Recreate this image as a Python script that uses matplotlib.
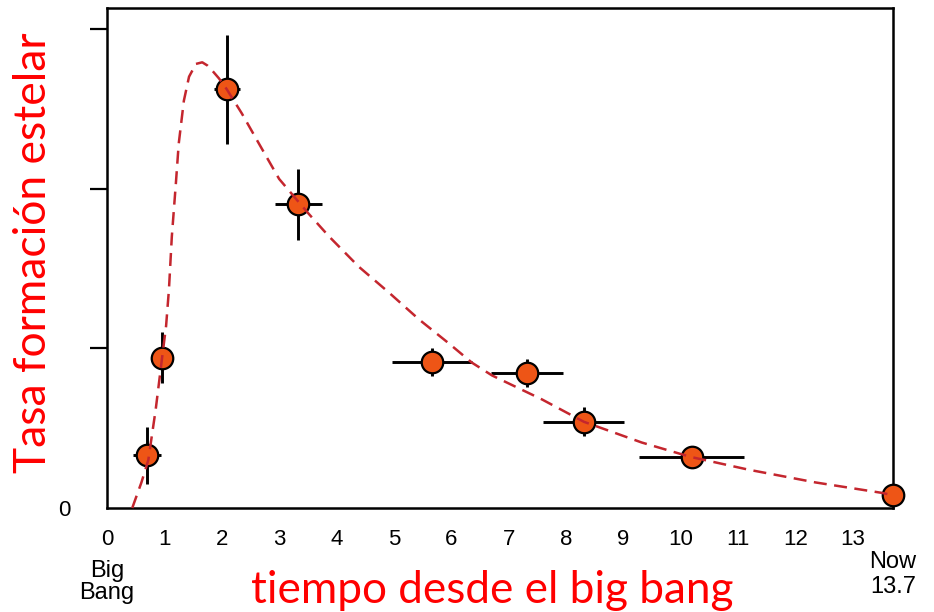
import matplotlib
matplotlib.use("Agg")
import matplotlib.pyplot as plt

# ---- data ----
obs_t = [0.70, 0.96, 2.09, 3.33, 5.66, 7.32, 8.31, 10.19, 13.7]
obs_sfr = [0.33, 0.94, 2.62, 1.90, 0.914, 0.845, 0.54, 0.32, 0.08]
obs_terr = [0.24, 0.15, 0.22, 0.41, 0.70, 0.63, 0.71, 0.92, 0.0]
obs_serr = [0.18, 0.16, 0.34, 0.22, 0.09, 0.09, 0.09, 0.0, 0.0]

curve_t = [0.44, 0.60, 0.72, 0.85, 0.96, 1.03, 1.08, 1.13, 1.20, 1.25, 1.34,
           1.43, 1.55, 1.66, 1.75, 1.83, 1.95, 2.09, 2.35, 2.65, 3.00, 3.33,
           3.52, 3.87, 4.39, 4.91, 5.44, 5.96, 6.36, 6.71, 7.58, 8.31, 9.32,
           10.17, 11.18, 12.35, 13.5, 13.7]
curve_sfr = [0.0, 0.16, 0.30, 0.62, 0.94, 1.14, 1.37, 1.70, 2.03, 2.28, 2.55,
             2.70, 2.78, 2.79, 2.77, 2.74, 2.69, 2.62, 2.47, 2.28, 2.06, 1.92,
             1.84, 1.70, 1.51, 1.35, 1.18, 1.03, 0.91, 0.83, 0.68, 0.54, 0.41,
             0.32, 0.24, 0.16, 0.095, 0.08]

xticks = list(range(14))
xtick_labels = [str(v) for v in xticks]
yticks = [0, 1, 2, 3]
ytick_labels = ["0", "", "", ""]

xlabel = "tiempo desde el big bang"
ylabel = "Tasa formación estelar"

# ---- figure ----
W, H = 934, 612
fig = plt.figure(figsize=(W / 100, H / 100), dpi=100)
ax = fig.add_axes([107 / W, 1 - 508 / H, (893 - 107) / W, (508 - 8) / H])

ax.set_xlim(0, 13.7)
ax.set_ylim(0, 3.13)

ax.errorbar(obs_t, obs_sfr, xerr=obs_terr, yerr=obs_serr, fmt='none',
            ecolor='black', elinewidth=2.1, capsize=0, zorder=2, clip_on=False)
ax.plot(obs_t, obs_sfr, 'o', ms=15.5, mfc='#EE5516', mec='black', mew=1.6,
        zorder=3, clip_on=False)
ax.plot(curve_t, curve_sfr, color='#C4262E', lw=1.8, dashes=(5.2, 3.0),
        zorder=4, clip_on=False)

for s in ax.spines.values():
    s.set_linewidth(1.8)

tick_font = dict(family=['Liberation Sans', 'DejaVu Sans'], size=16)
ax.set_xticks(xticks)
ax.set_xticklabels(xtick_labels, fontdict=tick_font)
ax.tick_params(axis='x', length=0, pad=15)
ax.set_yticks(yticks)
ax.set_yticklabels(ytick_labels, fontdict=tick_font)
ax.tick_params(axis='y', direction='out', length=12.2, width=1.6, pad=14.4)
ax.yaxis.get_major_ticks()[0].tick1line.set_visible(False)

ax.annotate("Big\nBang", xy=(0, 0), xycoords=('data', 'axes fraction'),
            xytext=(0, -53), textcoords='offset points', ha='center',
            va='center', fontsize=17, family=['Liberation Sans'],
            linespacing=1.0, annotation_clip=False)
ax.annotate("Now\n13.7", xy=(13.7, 0), xycoords=('data', 'axes fraction'),
            xytext=(0, -48), textcoords='offset points', ha='center',
            va='center', fontsize=17, family=['Liberation Sans'],
            linespacing=1.2, annotation_clip=False)

lab_font = ['Lato', 'DejaVu Sans']
xl = fig.text(492 / W, 1 - 603 / H, xlabel, color='#FF0000', fontsize=30,
              family=lab_font, ha='center', va='baseline')
yl = fig.text(34 / W, 1 - 253 / H, ylabel, color='#FF0000', fontsize=30,
              family=lab_font, ha='center', va='center', rotation=90)

# fit label sizes to reference extents
fig.canvas.draw()
r = fig.canvas.get_renderer()
wx = xl.get_window_extent(r).width
xl.set_fontsize(30 * 481 / wx)
hy = yl.get_window_extent(r).height
yl.set_fontsize(30 * 440 / hy)

fig.savefig("out.png", dpi=100)
